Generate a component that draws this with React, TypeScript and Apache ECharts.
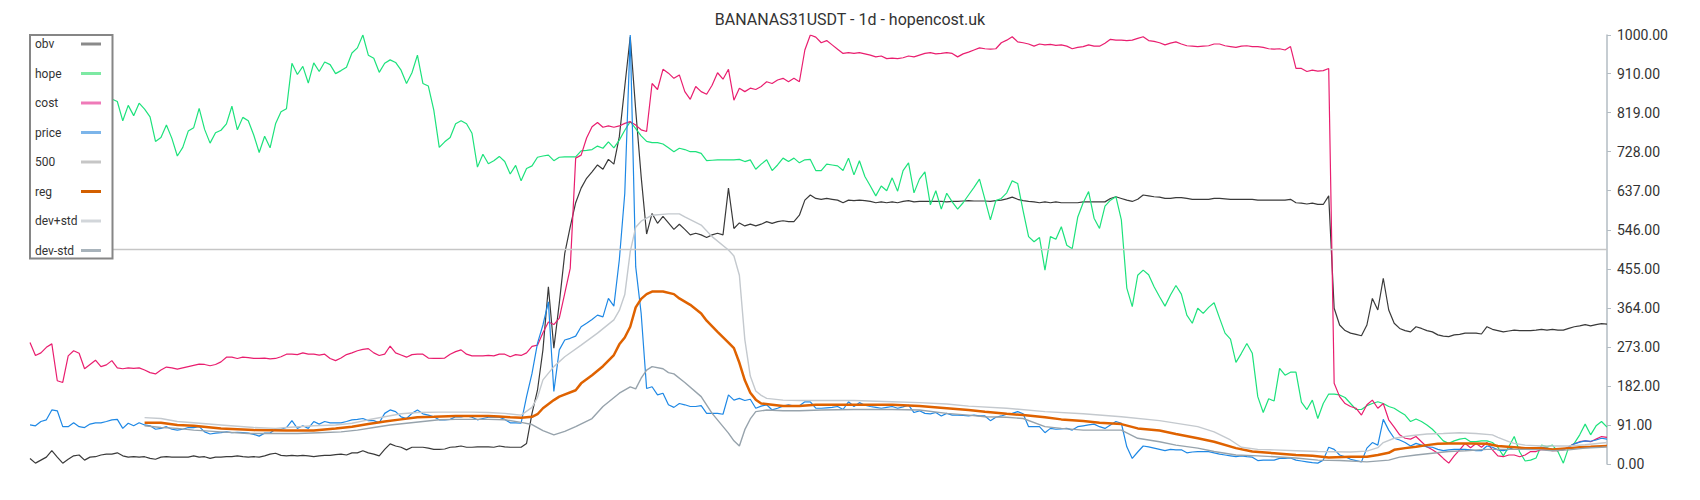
import React, { useEffect, useRef } from "react";
import * as echarts from "echarts";

const TITLE = "BANANAS31USDT - 1d - hopencost.uk";
const DAY_COUNT = 290;

const obv = [
  13, 2, 9, 16, 31, 16, 2, 11, 19, 21,
  9, 16, 17, 21, 23, 23, 26, 19, 16, 17,
  16, 17, 13, 11, 16, 17, 16, 16, 16, 16,
  19, 16, 17, 13, 16, 16, 17, 17, 19, 17,
  16, 17, 16, 19, 23, 25, 20, 19, 20, 19,
  20, 19, 17, 19, 20, 20, 22, 23, 21, 26,
  26, 31, 26, 23, 19, 34, 47, 42, 39, 33,
  39, 39, 39, 37, 34, 34, 35, 39, 40, 42,
  39, 39, 40, 40, 40, 39, 42, 40, 39, 39,
  39, 48, 118, 172, 266, 413, 270, 375, 491, 553,
  609, 643, 666, 681, 697, 687, 710, 699, 763, 880,
  996, 825, 670, 536, 584, 561, 577, 562, 547, 559,
  547, 534, 538, 534, 528, 534, 538, 534, 643, 549,
  562, 555, 559, 555, 559, 565, 561, 565, 567, 565,
  565, 580, 615, 627, 619, 617, 619, 617, 615, 609,
  615, 614, 615, 614, 612, 609, 611, 609, 611, 609,
  612, 614, 611, 612, 612, 612, 612, 612, 611, 612,
  612, 613, 614, 613, 613, 613, 612, 614, 615, 618,
  622, 617, 614, 612, 611, 609, 611, 609, 611, 609,
  609, 609, 609, 611, 611, 611, 611, 611, 619, 623,
  619, 615, 612, 617, 627, 625, 623, 622, 619, 619,
  621, 621, 619, 617, 617, 617, 617, 619, 619, 618,
  617, 617, 617, 617, 617, 615, 615, 615, 615, 615,
  615, 617, 609, 608, 606, 608, 605, 605, 625, 363,
  324, 311, 305, 302, 299, 324, 386, 359, 433, 359,
  328, 316, 311, 308, 320, 316, 311, 308, 301, 298,
  297, 301, 302, 305, 305, 305, 303, 320, 314, 311,
  308, 310, 312, 311, 311, 311, 312, 314, 312, 314,
  312, 312, 316, 320, 322, 325, 322, 325, 327, 326,
];

const hope = [
  850, 838, 860, 845, 852, 830, 848, 862, 840, 855,
  836, 850, 842, 858, 847, 851, 845, 800, 836, 812,
  841, 827, 809, 752, 761, 790, 759, 718, 738, 776,
  784, 829, 780, 748, 772, 778, 793, 834, 779, 808,
  800, 767, 726, 764, 737, 793, 821, 828, 934, 908,
  927, 888, 935, 915, 937, 931, 910, 917, 925, 958,
  970, 1000, 953, 946, 913, 934, 942, 936, 918, 887,
  912, 953, 887, 881, 825, 738, 751, 761, 793, 800,
  793, 771, 692, 722, 700, 707, 717, 705, 676, 696,
  660, 689, 695, 715, 718, 720, 707, 715, 716, 716,
  716, 730, 731, 733, 741, 736, 751, 737, 755, 778,
  798, 782, 765, 752, 749, 749, 746, 737, 728, 736,
  733, 728, 728, 724, 707, 708, 709, 709, 709, 709,
  710, 705, 709, 687, 699, 709, 684, 697, 713, 705,
  713, 702, 709, 710, 684, 684, 699, 697, 695, 684,
  713, 674, 707, 670, 648, 625, 648, 637, 667, 636,
  684, 702, 632, 664, 681, 604, 637, 594, 631, 611,
  594, 609, 627, 645, 664, 617, 569, 614, 619, 632,
  660, 654, 590, 530, 518, 528, 452, 530, 524, 553,
  510, 502, 575, 609, 635, 573, 549, 601, 615, 623,
  569, 410, 367, 440, 452, 441, 413, 390, 368, 394,
  416, 396, 347, 328, 363, 351, 365, 376, 340, 305,
  291, 237, 258, 281, 258, 157, 120, 152, 147, 223,
  207, 214, 214, 144, 127, 149, 106, 141, 163, 163,
  161, 155, 141, 127, 127, 136, 141, 145, 141, 134,
  130, 122, 114, 99, 105, 99, 91, 81, 68, 54,
  48, 54, 58, 60, 52, 52, 54, 54, 50, 39,
  19, 40, 64, 28, 7, 9, 14, 44, 40, 44,
  29, 2, 40, 48, 68, 93, 68, 89, 99, 86,
];

const cost = [
  283, 253, 259, 272, 280, 194, 190, 252, 264, 258,
  222, 232, 242, 227, 231, 241, 224, 222, 224, 223,
  224, 219, 213, 210, 219, 226, 224, 221, 224, 227,
  230, 233, 232, 229, 232, 238, 249, 249, 246, 249,
  248, 246, 246, 247, 245, 246, 250, 256, 256, 255,
  259, 256, 256, 254, 256, 246, 241, 247, 255, 259,
  264, 267, 269, 259, 253, 256, 275, 259, 254, 249,
  255, 256, 256, 247, 246, 246, 247, 256, 262, 266,
  256, 252, 252, 252, 253, 252, 256, 256, 250, 255,
  253, 259, 274, 277, 306, 331, 325, 340, 398, 456,
  713, 720, 760, 786, 796, 785, 788, 785, 788, 794,
  798, 790, 779, 775, 887, 873, 920, 911, 899, 907,
  868, 850, 880, 868, 862, 883, 912, 897, 920, 848,
  876, 868, 876, 873, 880, 891, 887, 895, 899, 891,
  899, 891, 965, 1000, 995, 982, 987, 977, 967, 957,
  959, 957, 959, 956, 953, 949, 951, 945, 946, 945,
  947, 951, 949, 953, 957, 959, 956, 957, 959, 957,
  949, 956, 960, 965, 970, 968, 967, 968, 982, 988,
  996, 984, 982, 979, 974, 979, 977, 978, 976, 977,
  974, 968, 971, 973, 977, 974, 974, 981, 990, 988,
  988, 987, 988, 992, 996, 987, 985, 982, 977, 981,
  984, 979, 975, 974, 973, 974, 975, 979, 979, 975,
  973, 971, 974, 975, 973, 973, 971, 968, 967, 968,
  965, 973, 922, 922, 915, 918, 916, 917, 922, 188,
  157, 141, 134, 130, 114, 138, 149, 130, 141, 103,
  86, 68, 60, 58, 64, 52, 40, 33, 25, 13,
  2, 19, 33, 48, 38, 48, 39, 50, 33, 19,
  17, 21, 21, 17, 21, 29, 29, 34, 33, 31,
  31, 33, 40, 47, 52, 54, 52, 58, 64, 62,
];

const price = [
  91, 89, 99, 103, 126, 124, 87, 87, 96, 87,
  85, 93, 96, 96, 99, 103, 104, 83, 95, 89,
  96, 91, 89, 81, 83, 87, 81, 79, 81, 85,
  85, 87, 75, 70, 72, 73, 75, 73, 74, 73,
  72, 69, 65, 72, 72, 81, 81, 85, 101, 83,
  89, 83, 99, 93, 99, 96, 96, 96, 99, 103,
  104, 106, 101, 101, 96, 118, 126, 122, 110, 106,
  118, 126, 117, 114, 110, 103, 103, 104, 110, 110,
  112, 109, 103, 106, 109, 110, 109, 104, 96, 96,
  95, 157, 211, 281, 324, 378, 169, 266, 289, 293,
  298, 320, 328, 337, 347, 343, 386, 368, 476, 631,
  1000, 460, 351, 176, 180, 161, 165, 138, 132, 141,
  138, 134, 134, 136, 118, 118, 118, 116, 161, 149,
  153, 148, 151, 130, 135, 138, 126, 130, 135, 138,
  135, 136, 145, 145, 130, 130, 131, 132, 134, 127,
  145, 134, 143, 137, 134, 132, 130, 132, 134, 130,
  133, 137, 120, 124, 118, 117, 120, 112, 118, 114,
  114, 113, 112, 114, 112, 112, 101, 109, 112, 116,
  118, 122, 117, 87, 87, 87, 73, 83, 81, 82,
  83, 79, 87, 89, 91, 93, 87, 83, 91, 99,
  95, 40, 13, 28, 42, 40, 37, 34, 31, 34,
  33, 33, 26, 28, 29, 29, 29, 26, 23, 21,
  19, 17, 19, 17, 16, 8, 9, 9, 9, 13,
  13, 14, 9, 7, 5, 3, 2, 9, 39, 34,
  21, 17, 11, 8, 5, 37, 50, 44, 104, 79,
  60, 56, 50, 42, 48, 44, 40, 39, 34, 31,
  33, 34, 34, 34, 33, 31, 31, 42, 39, 33,
  31, 34, 39, 39, 37, 37, 38, 39, 37, 34,
  34, 34, 39, 47, 51, 54, 53, 56, 60, 58,
];

const level500Days = [0, 289];
const level500Values = [500, 500];

const regDays = [
  21, 24, 27, 30, 35, 41, 47, 52, 56, 59, 62, 65, 68, 71, 74, 78, 84, 86, 88, 90,
  92, 93, 94, 96, 97, 100, 101, 103, 105, 107, 108, 109, 110, 111, 112, 113, 114, 116, 118, 119,
  121, 123, 124, 126, 128, 129, 130, 131, 132, 133, 134, 136, 138, 141, 144, 151, 158, 163, 168, 172,
  175, 179, 182, 186, 189, 193, 196, 200, 203, 207, 210, 214, 217, 221, 224, 228, 232, 235, 238, 242,
  245, 247, 249, 250, 252, 254, 256, 258, 260, 264, 267, 269, 272, 274, 277, 279, 282, 284, 286, 289,
];
const regValues = [
  96, 96, 91, 89, 83, 79, 78, 78, 83, 87, 93, 99, 104, 109, 110, 112, 112, 111, 109, 108,
  110, 116, 130, 149, 157, 172, 188, 207, 228, 254, 279, 295, 320, 365, 385, 396, 402, 402, 396, 386,
  371, 351, 334, 308, 283, 270, 236, 195, 166, 150, 141, 138, 135, 135, 138, 138, 138, 135, 130, 126,
  122, 117, 114, 109, 104, 100, 96, 93, 83, 78, 70, 60, 52, 37, 29, 25, 21, 19, 15, 17,
  17, 21, 26, 33, 37, 40, 44, 47, 48, 48, 47, 42, 39, 37, 37, 34, 37, 39, 40, 42,
];

const devPlusDays = [
  21, 24, 27, 30, 35, 41, 45, 47, 52, 56, 59, 62, 65, 68, 71, 75, 81, 84, 87, 90,
  92, 93, 94, 96, 98, 101, 104, 107, 108, 109, 110, 111, 112, 114, 117, 119, 120, 123, 125, 128,
  129, 130, 131, 132, 133, 134, 135, 138, 141, 151, 158, 163, 168, 172, 179, 186, 193, 200, 207, 214,
  217, 220, 222, 225, 228, 232, 236, 242, 245, 247, 248, 250, 253, 256, 259, 262, 265, 268, 269, 271,
  272, 274, 277, 282, 285, 289,
];
const devPlusValues = [
  108, 106, 99, 96, 91, 85, 83, 85, 89, 91, 95, 103, 110, 117, 120, 121, 121, 120, 118, 114,
  132, 155, 196, 227, 250, 277, 305, 336, 358, 395, 495, 552, 566, 580, 583, 583, 576, 557, 530, 499,
  485, 440, 290, 205, 170, 160, 153, 149, 148, 148, 145, 143, 140, 135, 130, 122, 117, 110, 101, 87,
  75, 56, 39, 34, 33, 31, 29, 28, 30, 38, 50, 60, 66, 70, 71, 73, 71, 68, 62, 52,
  48, 44, 42, 42, 45, 50,
];

const devMinusDays = [
  21, 24, 27, 30, 35, 40, 44, 49, 53, 57, 60, 63, 66, 69, 72, 75, 78, 84, 87, 90,
  92, 93, 94, 96, 98, 100, 103, 105, 108, 110, 111, 112, 113, 114, 116, 117, 118, 120, 123, 125,
  128, 129, 130, 131, 132, 133, 135, 138, 141, 145, 151, 158, 163, 168, 172, 175, 179, 182, 186, 189,
  193, 200, 203, 207, 210, 214, 217, 221, 225, 228, 232, 236, 240, 245, 249, 251, 254, 257, 260, 263,
  267, 274, 277, 279, 282, 285, 288, 289,
];
const devMinusValues = [
  89, 85, 83, 79, 75, 71, 71, 71, 73, 75, 79, 85, 91, 95, 99, 103, 104, 104, 103, 97,
  92, 85, 78, 68, 76, 87, 106, 134, 165, 180, 175, 200, 219, 227, 222, 213, 210, 190, 157, 118,
  72, 54, 42, 80, 105, 122, 126, 124, 124, 126, 127, 127, 126, 118, 114, 110, 109, 106, 87, 83,
  79, 79, 60, 52, 44, 37, 29, 21, 19, 17, 14, 9, 8, 5, 9, 16, 21, 25, 29, 31,
  34, 34, 33, 31, 33, 37, 39, 40,
];

const seriesNames = ["obv", "hope", "cost", "price", "500", "reg", "dev+std", "dev-std"];
const lineColors = ["#3a3a3a", "#1de27c", "#e91e6f", "#1e88e5", "#c6c6c6", "#df6200", "#c4c9ce", "#97a3ac"];
const legendColors = ["#8a8a8a", "#7de9a3", "#ef7ab8", "#7cb5ea", "#c6c6c6", "#d35f00", "#d2d6da", "#a8b3bb"];
const lineWidths = [1.2, 1.2, 1.2, 1.2, 1.5, 2.5, 1.4, 1.4];

export default function App() {
  const ref = useRef<HTMLDivElement>(null);

  useEffect(() => {
    if (!ref.current) return;
    const chart = echarts.init(ref.current, null, { renderer: "svg" });
    const byDay = (vals: number[]) => vals.map((v, i) => [i, v]);
    const pairs = (days: number[], vals: number[]) => days.map((d, i) => [d, vals[i]]);
    const datasets = [
      byDay(obv),
      byDay(hope),
      byDay(cost),
      byDay(price),
      pairs(level500Days, level500Values),
      pairs(regDays, regValues),
      pairs(devPlusDays, devPlusValues),
      pairs(devMinusDays, devMinusValues),
    ];

    chart.setOption({
      animation: false,
      backgroundColor: "#ffffff",
      textStyle: { fontFamily: "Roboto" },
      title: {
        text: TITLE,
        left: "center",
        top: 11,
        padding: 0,
        textStyle: { fontSize: 16, fontWeight: "normal", color: "#333333", fontFamily: "Roboto" },
      },
      legend: {
        orient: "vertical",
        left: 30,
        top: 35,
        align: "right",
        backgroundColor: "#ffffff",
        borderColor: "#868686",
        borderWidth: 2,
        borderRadius: 0,
        padding: [3, 10, 2, 5],
        itemWidth: 20,
        itemHeight: 14,
        itemGap: 17.5,
        formatter: (name: string) => `{t|${name}}`,
        textStyle: {
          fontSize: 12,
          color: "#333333",
          fontFamily: "Roboto",
          rich: {
            t: { width: 41, align: "left", fontSize: 12, color: "#333333", fontFamily: "Roboto" },
          },
        },
        data: seriesNames.map((name, i) => ({
          name,
          lineStyle: { color: legendColors[i], width: 3 },
          itemStyle: { color: "rgba(0,0,0,0)", borderWidth: 0, opacity: 0 },
        })),
      },
      grid: { left: 30, right: 93, top: 35, bottom: 36 },
      xAxis: { type: "value", min: 0, max: DAY_COUNT - 1, show: false },
      yAxis: {
        type: "value",
        position: "right",
        min: 0,
        max: 1000,
        interval: 91,
        axisLine: { show: true, onZero: false, lineStyle: { color: "#b3bcc3", width: 1.5 } },
        axisTick: { show: true, length: 4, lineStyle: { color: "#b3bcc3" } },
        axisLabel: {
          margin: 10,
          fontSize: 14,
          color: "#333333",
          fontFamily: "Roboto",
          formatter: (v: number) => v.toFixed(2),
        },
        splitLine: { show: false },
      },
      series: seriesNames.map((name, i) => ({
        name,
        type: "line",
        data: datasets[i],
        symbol: "none",
        color: lineColors[i],
        lineStyle: { color: lineColors[i], width: lineWidths[i] },
        emphasis: { disabled: true },
      })),
    });

    return () => chart.dispose();
  }, []);

  return (
    <div
      ref={ref}
      style={{ position: "fixed", left: 0, top: 0, width: 1700, height: 500 }}
    />
  );
}
